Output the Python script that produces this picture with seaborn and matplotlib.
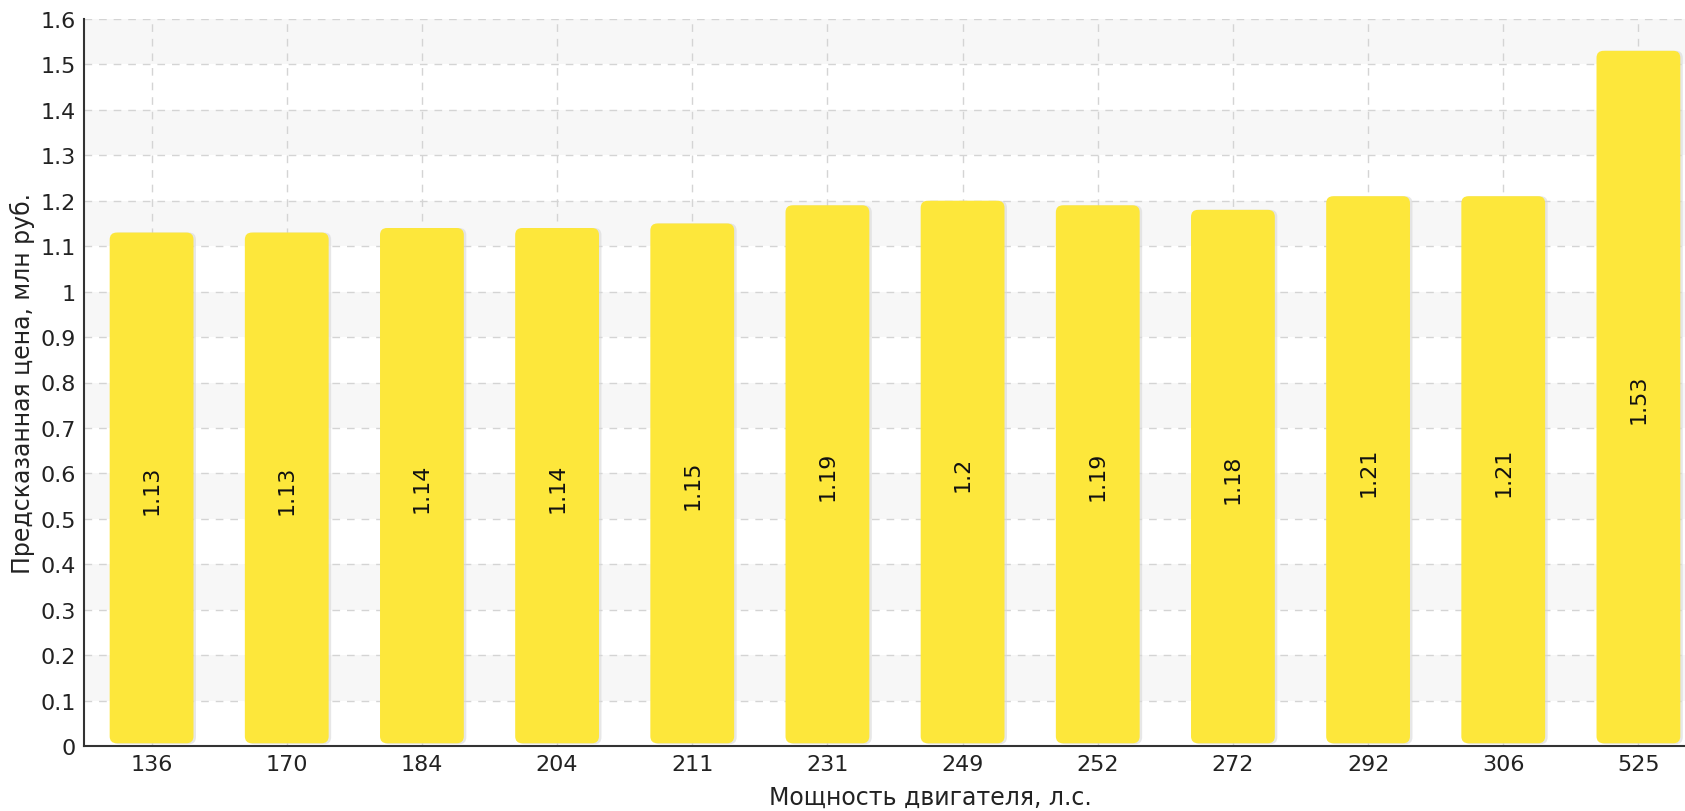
import numpy as np
import pandas as pd
import seaborn as sns
import matplotlib
matplotlib.use('Agg')
import matplotlib.pyplot as plt
from matplotlib.patches import FancyBboxPatch

# engine power (hp) and predicted price (mln rub)
power = ['136', '170', '184', '204', '211', '231', '249', '252', '272', '292', '306', '525']
price = [1.13, 1.13, 1.14, 1.14, 1.15, 1.19, 1.2, 1.19, 1.18, 1.21, 1.21, 1.53]
price_labels = ['1.13', '1.13', '1.14', '1.14', '1.15', '1.19', '1.2', '1.19', '1.18', '1.21', '1.21', '1.53']

df = pd.DataFrame({'power': power, 'price': price})

sns.set_style('white')
plt.rcParams['font.family'] = ['DejaVu Sans']
plt.rcParams['font.sans-serif'] = ['DejaVu Sans']
FONT = 'DejaVu Sans'
TICK_FS = 16
LABEL_FS = 17

W, H = 1685, 812
fig = plt.figure(figsize=(W / 100, H / 100), dpi=100)
ax_left, ax_right, ax_top, ax_bottom = 84, 1706, 20, 747
ax = fig.add_axes([ax_left / W, (H - ax_bottom) / H, (ax_right - ax_left) / W, (ax_bottom - ax_top) / H])

bar_color = '#FDE73B'
sns.barplot(data=df, x='power', y='price', color=bar_color, width=0.62, ax=ax, zorder=3)
bar_patches = list(ax.patches)

ax.set_xlim(-0.5, 11.5)
ax.set_ylim(0, 1.6)

# replace bars with rounded ones
px_x = (ax_right - ax_left) / 12
px_y = (ax_bottom - ax_top) / 1.6
r = 7 / px_x
aspect = px_x / px_y
for p in bar_patches:
    x0, w, h = p.get_x(), p.get_width(), p.get_height()
    p.remove()
    shadow = FancyBboxPatch((x0 + 2.5 / px_x, 0.004), w, h - 0.004,
                            boxstyle=f'round,pad=0,rounding_size={r}',
                            mutation_aspect=aspect, fc='#d8d8d8', ec='none', alpha=0.6, zorder=2)
    ax.add_patch(shadow)
    bar = FancyBboxPatch((x0, 0.006), w, h - 0.006,
                         boxstyle=f'round,pad=0,rounding_size={r}',
                         mutation_aspect=aspect, fc=bar_color, ec='none', zorder=3)
    ax.add_patch(bar)

# alternating background bands
for lo in np.arange(0.1, 1.6, 0.2):
    ax.axhspan(lo, lo + 0.1, color='#f7f7f7', zorder=0, lw=0)

for i, (v, lab) in enumerate(zip(price, price_labels)):
    ax.text(i, v / 2, lab, rotation=90, ha='center', va='center', fontsize=TICK_FS,
            color='#111111', zorder=4, family=FONT)

ax.set_yticks(np.round(np.arange(0, 1.61, 0.1), 1))
ax.set_yticklabels(['0', '0.1', '0.2', '0.3', '0.4', '0.5', '0.6', '0.7', '0.8', '0.9',
                    '1', '1.1', '1.2', '1.3', '1.4', '1.5', '1.6'], family=FONT)
ax.set_xticks(range(len(power)))
ax.set_xticklabels(power, family=FONT)
ax.set_yticks(np.arange(0.05, 1.6, 0.1), minor=True)

ax.grid(True, which='major', axis='both', color='#d4d4d4', linestyle=(0, (5.5, 5)), linewidth=1.0, zorder=1)
ax.set_axisbelow(True)

for s in ['top', 'right']:
    ax.spines[s].set_visible(False)
for s in ['left', 'bottom']:
    ax.spines[s].set_color('#333333')
    ax.spines[s].set_linewidth(1.5)

ax.tick_params(axis='y', which='major', direction='inout', length=8, width=1.2, color='#333333',
               labelsize=TICK_FS, labelcolor='#222222', pad=2)
ax.tick_params(axis='y', which='minor', direction='out', length=3, width=1.2, color='#ff3333')
ax.tick_params(axis='x', which='major', direction='inout', length=8, width=1.2, color='#333333',
               labelsize=TICK_FS, labelcolor='#222222', pad=2)

ax.set_xlabel('Мощность двигателя, л.с.', fontsize=LABEL_FS, color='#222222', family=FONT)
ax.set_ylabel('Предсказанная цена, млн руб.', fontsize=LABEL_FS, color='#222222', family=FONT)
ax.xaxis.set_label_coords((930 - ax_left) / (ax_right - ax_left), -(786 - ax_bottom) / (ax_bottom - ax_top))
ax.yaxis.set_label_coords(-(84 - 35) / (ax_right - ax_left), (ax_bottom - 383) / (ax_bottom - ax_top))

fig.savefig('out.png', dpi=100)
